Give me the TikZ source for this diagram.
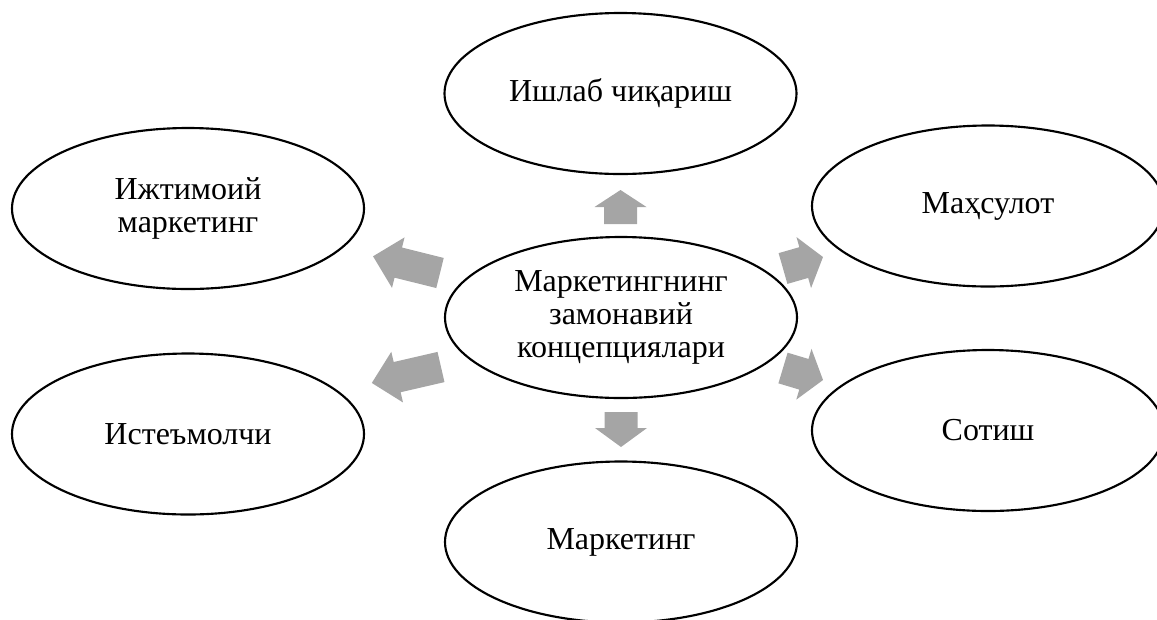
\documentclass[tikz,border=0pt]{standalone}
\usepackage{fontspec}
\setmainfont{Liberation Serif}
\usetikzlibrary{shapes.geometric}

% gray block arrow: tail point, direction angle, length, shaft half-width,
% head half-width, head length
\newcommand\blockarr[6]{%
  \fill[arrfill, shift={(#1)}, rotate=#2]
    (0,-#4) -- ({#3-#6},-#4) -- ({#3-#6},-#5) -- (#3,0)
    -- ({#3-#6},#5) -- ({#3-#6},#4) -- (0,#4) -- cycle;}

\begin{document}
\begin{tikzpicture}[x=0.75pt, y=-0.75pt,
  concept/.style={draw=black, line width=1.6pt, ellipse, fill=white,
    minimum width=264pt, minimum height=120.75pt, inner sep=0pt,
    align=center, font=\fontsize{24}{24.6}\selectfont},
  arrfill/.style={fill={rgb,255:red,165;green,165;blue,165}}]

\clip (0,0) rectangle (1157,619);

% outer concepts
\node[concept] (prod)   at (620.5, 93.5) {Ишлаб чиқариш};
\node[concept] (social) at (188, 208.5)  {Ижтимоий\\маркетинг};
\node[concept] (goods)  at (988, 206)    {Маҳсулот};
\node[concept] (cons)   at (188, 434)    {Истеъмолчи};
\node[concept] (sales)  at (988, 430.5)  {Сотиш};
\node[concept] (mkt)    at (621, 542)    {Маркетинг};

% central concept
\node[concept] (core)   at (621, 317.5)  {Маркетингнинг\\замонавий\\концепциялари};

% arrows radiating from the central concept
\blockarr{620.5,224}{90}{34}{16.5}{26}{17}
\blockarr{621,412}{-90}{35}{16.5}{26}{19}
\blockarr{783,268.5}{16}{41.6}{16}{26.5}{20}
\blockarr{783,368}{-16.7}{41.8}{16}{26.5}{20}
\blockarr{440,273}{166}{69}{15.5}{26}{26}
\blockarr{441,367}{193}{71}{15.5}{26}{26}

\end{tikzpicture}
\end{document}
